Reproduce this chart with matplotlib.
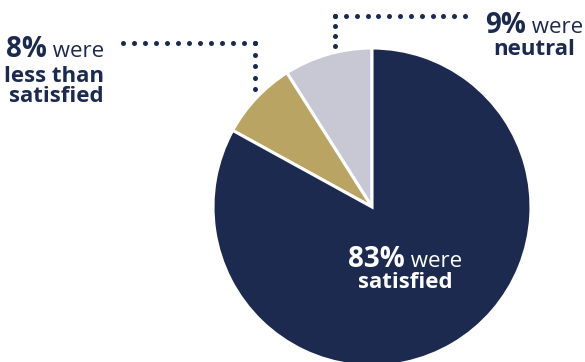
import matplotlib.pyplot as plt
import numpy as np

plt.rcParams['font.family'] = ['Open Sans', 'DejaVu Sans']

# survey result shares, counter-clockwise from 12 o'clock
labels = ['neutral', 'less than satisfied', 'satisfied']
shares = [9, 8, 83]
colors = ['#c8c8d5', '#b9a464', '#1b2a4e']

navy = '#1b2a4e'
W, H = 585, 362

fig = plt.figure(figsize=(W / 100, H / 100), dpi=100)
ax = fig.add_axes([0, 0, 1, 1])

ax.pie(shares, colors=colors, startangle=90, counterclock=True,
       center=(372, H - 207), radius=159, frame=True,
       wedgeprops=dict(edgecolor='white', linewidth=2.2))
ax.set_xlim(0, W)
ax.set_ylim(0, H)
ax.set_aspect('equal')
ax.axis('off')

renderer = fig.canvas.get_renderer()


def width_of(t):
    return t.get_window_extent(renderer).width


def label(x, y, big, small, lines, ha, color, gaps):
    # first line: bold percentage followed by regular "were"
    t1 = ax.text(0, y, big, fontsize=20, fontweight='bold', color=color, va='baseline')
    t2 = ax.text(0, y, ' ' + small, fontsize=16, color=color, va='baseline')
    w1, w2 = width_of(t1), width_of(t2)
    total = w1 + w2
    left = {'left': x, 'center': x - total / 2, 'right': x - total}[ha]
    t1.set_x(left)
    t2.set_x(left + w1)
    for line, gap in zip(lines, gaps):
        y -= gap
        ax.text(x, y, line, fontsize=16, fontweight='bold',
                color=color, ha=ha, va='baseline')


def dots(x0, y0, x1, y1, n):
    ax.plot(np.linspace(x0, x1, n), H - np.linspace(y0, y1, n), 'o',
            color=navy, markersize=3.6, markeredgewidth=0)


label(104, H - 57, '8%', 'were', ['less than', 'satisfied'], 'right', navy, [25, 20])
label(534, H - 33, '9%', 'were', ['neutral'], 'center', navy, [22])
label(405, H - 267, '83%', 'were', ['satisfied'], 'center', 'white', [21])

# leader lines
dots(123, 43, 255, 43, 13)
dots(255, 43, 255, 89, 5)
dots(335, 16, 465, 16, 13)
dots(335, 16, 335, 46, 4)

fig.savefig('out.png', dpi=100)
